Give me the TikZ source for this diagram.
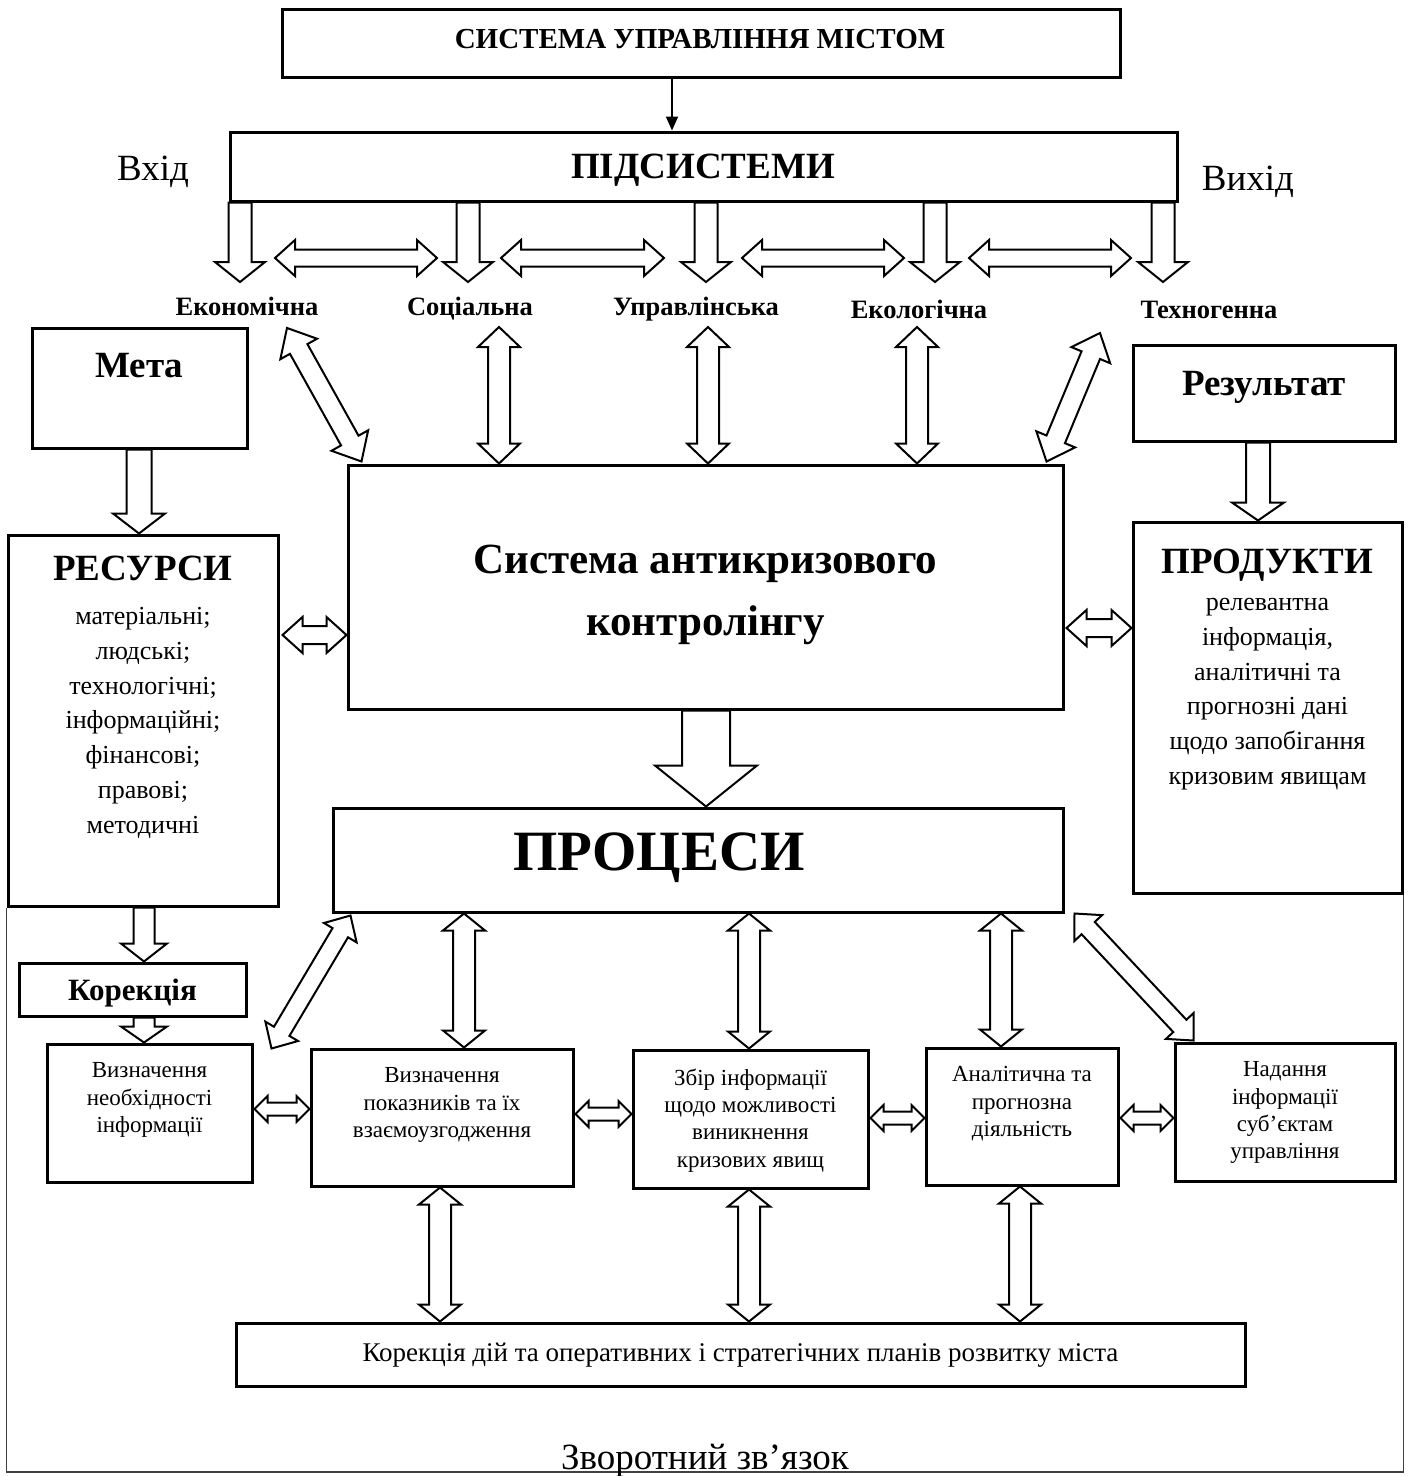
\documentclass[tikz,border=0pt]{standalone}
\usepackage{fontspec}
\setmainfont{Liberation Serif}
\usetikzlibrary{calc,arrows.meta}

% single hollow block arrow: tail #1, tip #2, shaft half width #3, head half width #4, head length #5
\newcommand{\sarrow}[5]{%
  \path ($(#2)!#5!(#1)$) coordinate (ban);
  \draw[blk] ($(#1)!#3!90:(#2)$) -- ($(ban)!#3!90:(#2)$) -- ($(ban)!#4!90:(#2)$) -- (#2)
    -- ($(ban)!#4!-90:(#2)$) -- ($(ban)!#3!-90:(#2)$) -- ($(#1)!#3!-90:(#2)$) -- cycle;}
% double hollow block arrow between #1 and #2
\newcommand{\darrow}[5]{%
  \path ($(#1)!#5!(#2)$) coordinate (ban1) ($(#2)!#5!(#1)$) coordinate (ban2);
  \draw[blk] (#1) -- ($(ban1)!#4!90:(#2)$) -- ($(ban1)!#3!90:(#2)$) -- ($(ban2)!#3!90:(#2)$)
    -- ($(ban2)!#4!90:(#2)$) -- (#2) -- ($(ban2)!#4!-90:(#2)$) -- ($(ban2)!#3!-90:(#2)$)
    -- ($(ban1)!#3!-90:(#2)$) -- ($(ban1)!#4!-90:(#2)$) -- cycle;}

\tikzset{
  box/.style={draw, line width=3pt, inner sep=0pt, align=center},
  blk/.style={draw, fill=white, line width=2pt, line join=miter},
  lbl/.style={font=\bfseries\fontsize{26.5}{30}\selectfont, inner sep=0pt, anchor=base},
  ttl/.style={font=\bfseries\fontsize{37}{44}\selectfont, inner sep=0pt, anchor=base},
  items/.style={font=\fontsize{26}{34.8}\selectfont, align=center, inner sep=0pt, anchor=north},
  small/.style={font=\fontsize{23}{27.3}\selectfont, align=center, inner sep=0pt, anchor=north},
  frame/.style={draw=black!75, line width=1.3pt},
}

\begin{document}
\begin{tikzpicture}[x=1pt, y=-1pt]
\useasboundingbox (0,0) rectangle (1412,1476);

% ---------- top part ----------
\node[box, minimum width=838pt, minimum height=68pt] (top) at (701,43) {};
\node[font=\bfseries\fontsize{29}{35}\selectfont, inner sep=0pt, anchor=base] (topt) at (700,48) {СИСТЕМА УПРАВЛІННЯ МІСТОМ};
\node[box, minimum width=947pt, minimum height=69pt] (sub) at (703.5,166.5) {};
\node[font=\bfseries\fontsize{37}{44}\selectfont, inner sep=0pt, anchor=base] (subt) at (703,178) {ПІДСИСТЕМИ};
\node[font=\fontsize{37}{44}\selectfont, inner sep=0pt, anchor=base] (vhid) at (153,180) {Вхід};
\node[font=\fontsize{37}{44}\selectfont, inner sep=0pt, anchor=base] (vyhid) at (1248,190) {Вихід};

\draw[line width=2pt, -{Triangle[length=14pt,width=12pt]}] (672,0 |- top.south) -- (672,0 |- sub.north);

\node[lbl] (ekon) at (247,315) {Економічна};
\node[lbl] (soc) at (470,315) {Соціальна};
\node[lbl] (upr) at (696,315) {Управлінська};
\node[lbl] (eko) at (919,318) {Екологічна};
\node[lbl] (tekh) at (1209,318) {Техногенна};

\foreach \x/\n in {240/1,468/2,706/3,935/4,1163/5}{
  \coordinate (sd\n) at (\x,0 |- sub.south);
  \coordinate (st\n) at (\x,282);
}
\foreach \n in {1,...,5}{\sarrow{sd\n}{st\n}{11.5pt}{25pt}{20pt}}

\foreach \a/\b/\n in {275/437/1,501/664/2,742/904/3,969/1131/4}{
  \coordinate (ha\n) at (\a,258);
  \coordinate (hb\n) at (\b,258);
}
\foreach \n in {1,...,4}{\darrow{ha\n}{hb\n}{8.5pt}{18pt}{20pt}}

% ---------- middle ----------
\node[box, minimum width=215pt, minimum height=120pt] (meta) at (139.5,388) {};
\node[ttl] (metat) at (139.5,377) {Мета};
\node[box, minimum width=270pt, minimum height=371pt] (res) at (143,720.5) {};
\node[ttl] (rest) at (143,580) {РЕСУРСИ};
\node[items] (resi) at (143,607) {матеріальні;\\людські;\\технологічні;\\інформаційні;\\фінансові;\\правові;\\методичні};

\node[box, minimum width=715pt, minimum height=244pt] (cab) at (705.5,587) {};
\node[font=\bfseries\fontsize{43}{62}\selectfont, align=center, inner sep=0pt, anchor=base] (cabt) at (705.5,635) {Система антикризового\\контролінгу};

\node[box, minimum width=262pt, minimum height=96pt] (rez) at (1264,393) {};
\node[ttl] (rezt) at (1264,395) {Результат};
\node[box, minimum width=269pt, minimum height=371pt] (prod) at (1267.5,707.5) {};
\node[ttl] (prodt) at (1267.5,573) {ПРОДУКТИ};
\node[items] (prodi) at (1267.5,598) {релевантна\\інформація,\\аналітичні та\\прогнозні дані\\щодо запобігання\\кризовим явищам};

% labels <-> central box
\foreach \x/\n in {499/1,708/2,917/3}{
  \coordinate (va\n) at (\x,327);
  \coordinate (vb\n) at (\x,0 |- cab.north);
}
\foreach \n in {1,2,3}{\darrow{va\n}{vb\n}{11pt}{21pt}{20pt}}
\coordinate (dg1a) at (287,328);
\coordinate (dg1b) at ($(cab.north west)+(15,-2)$);
\darrow{dg1a}{dg1b}{10pt}{21pt}{24pt}
\coordinate (dg2a) at (1100,333);
\coordinate (dg2b) at ($(cab.north east)+(-18,-2)$);
\darrow{dg2a}{dg2b}{10pt}{21pt}{24pt}

\coordinate (m1) at (139,0 |- meta.south);
\coordinate (m2) at (139,0 |- res.north);
\sarrow{m1}{m2}{12.5pt}{26pt}{20pt}
\coordinate (r1) at (1258,0 |- rez.south);
\coordinate (r2) at (1258,0 |- prod.north);
\sarrow{r1}{r2}{12pt}{26pt}{18pt}

\coordinate (rc1) at ($(res.east |- 0,635)+(3,0)$);
\coordinate (rc2) at (cab.west |- 0,635);
\darrow{rc1}{rc2}{9pt}{18pt}{20pt}
\coordinate (cp1) at ($(cab.east |- 0,628)+(2,0)$);
\coordinate (cp2) at (prod.west |- 0,628);
\darrow{cp1}{cp2}{9pt}{18pt}{20pt}

% ---------- processes ----------
\node[box, minimum width=730pt, minimum height=104pt] (proc) at (698,860) {};
\node[font=\bfseries\fontsize{57}{66}\selectfont, inner sep=0pt, anchor=base] (proct) at (659,870) {ПРОЦЕСИ};
\coordinate (cx1) at (706,0 |- cab.south);
\coordinate (cx2) at (706,0 |- proc.north);
\sarrow{cx1}{cx2}{24pt}{51pt}{41pt}

\node[box, minimum width=227pt, minimum height=53pt] (korek) at (132.5,989.5) {};
\node[font=\bfseries\fontsize{31}{37}\selectfont, inner sep=0pt, anchor=base] (korekt) at (132.5,1000) {Корекція};
\coordinate (k1) at (144,0 |- res.south);
\coordinate (k2) at (144,0 |- korek.north);
\sarrow{k1}{k2}{10.5pt}{23pt}{18pt}

\node[box, minimum width=205pt, minimum height=138pt] (b1) at (149.5,1113) {};
\node[small] (b1t) at ($(b1.north)+(0,20)$) {Визначення\\необхідності\\інформації};
\node[box, minimum width=262pt, minimum height=137pt] (b2) at (442,1117.5) {};
\node[small] (b2t) at ($(b2.north)+(0,20)$) {Визначення\\показників та їх\\взаємоузгодження};
\node[box, minimum width=235pt, minimum height=138pt] (b3) at (750.5,1119) {};
\node[small] (b3t) at ($(b3.north)+(0,20)$) {Збір інформації\\щодо можливості\\виникнення\\кризових явищ};
\node[box, minimum width=192pt, minimum height=137pt] (b4) at (1022,1116.5) {};
\node[small] (b4t) at ($(b4.north)+(0,20)$) {Аналітична та\\прогнозна\\діяльність};
\node[box, minimum width=220pt, minimum height=138pt] (b5) at (1285,1112) {};
\node[small] (b5t) at ($(b5.north)+(0,20)$) {Надання\\інформації\\суб’єктам\\управління};

\coordinate (kb1) at (144,0 |- korek.south);
\coordinate (kb2) at (144,0 |- b1.north);
\sarrow{kb1}{kb2}{10.5pt}{23pt}{16pt}

\node[box, minimum width=1009pt, minimum height=63pt] (bot) at (740.5,1354.5) {};
\node[font=\fontsize{27}{31}\selectfont, inner sep=0pt, anchor=base] (bott) at (740.5,1361) {Корекція дій та оперативних і стратегічних планів розвитку міста};

% processes <-> boxes
\foreach \x/\b/\n in {464/b2/1,749/b3/2,1001/b4/3}{
  \coordinate (pa\n) at (\x,0 |- proc.south);
  \coordinate (pb\n) at (\x,0 |- \b.north);
}
\foreach \n in {1,2,3}{\darrow{pa\n}{pb\n}{11pt}{21pt}{17pt}}
\foreach \x/\b/\n in {440/b2/1,749/b3/2,1020/b4/3}{
  \coordinate (qa\n) at (\x,0 |- \b.south);
  \coordinate (qb\n) at (\x,0 |- bot.north);
}
\foreach \n in {1,2,3}{\darrow{qa\n}{qb\n}{11pt}{21pt}{17pt}}

\coordinate (pd1a) at ($(b1.north east)+(18,6)$);
\coordinate (pd1b) at ($(proc.south west)+(19,2)$);
\darrow{pd1a}{pd1b}{9pt}{19pt}{20pt}
\coordinate (pd2a) at ($(proc.south east)+(10,0)$);
\coordinate (pd2b) at ($(b5.north west)+(20,-1)$);
\darrow{pd2a}{pd2b}{9pt}{19pt}{20pt}

\coordinate (s1a) at ($(b1.east |- 0,1109)+(1,0)$);
\coordinate (s1b) at (b2.west |- 0,1109);
\darrow{s1a}{s1b}{6.5pt}{13pt}{13pt}
\coordinate (s2a) at ($(b2.east |- 0,1114)+(1,0)$);
\coordinate (s2b) at (b3.west |- 0,1114);
\darrow{s2a}{s2b}{6.5pt}{13pt}{13pt}
\coordinate (s3a) at ($(b3.east |- 0,1118)+(1,0)$);
\coordinate (s3b) at (b4.west |- 0,1118);
\darrow{s3a}{s3b}{6.5pt}{13pt}{13pt}
\coordinate (s4a) at ($(b4.east |- 0,1118)+(1,0)$);
\coordinate (s4b) at (b5.west |- 0,1118);
\darrow{s4a}{s4b}{6.5pt}{13pt}{13pt}

% ---------- feedback frame ----------
\coordinate (fl) at (res.south west |- 0,1472);
\coordinate (fr) at (prod.south east |- 0,1472);
\draw[frame] (res.south west) -- (fl) -- (fr) -- (prod.south east);
\node[font=\fontsize{37}{44}\selectfont, inner sep=0pt, anchor=base] (fb) at (705,1469) {Зворотний зв’язок};
\end{tikzpicture}
\end{document}
